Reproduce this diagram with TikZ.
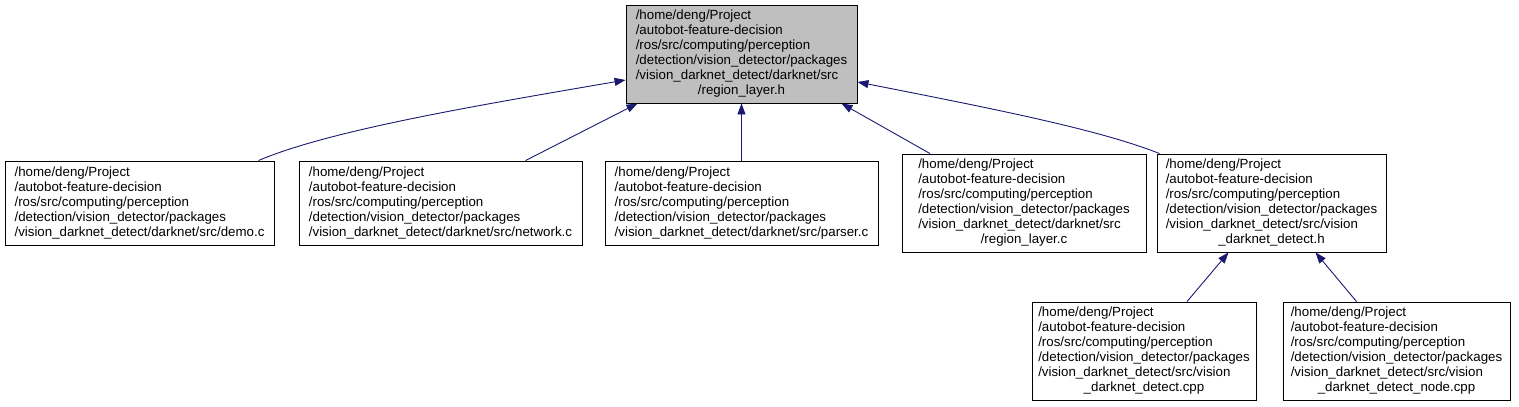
\documentclass[tikz,border=0pt]{standalone}
\usepackage{fontspec}
\setmainfont{Liberation Sans}
\usetikzlibrary{arrows.meta}
\definecolor{edgecol}{HTML}{191970}
\definecolor{topfill}{HTML}{BFBFBF}
\tikzset{
  box/.style={draw=black, line width=0.9pt, fill=white, inner sep=0pt,
    font=\fontsize{13.3}{15}\selectfont},
  tall/.style={minimum height=98pt},
  short/.style={minimum height=84pt},
  edge/.style={draw=edgecol, line width=0.9pt, {Triangle[length=11pt,width=8pt]}-},
}
\newcommand{\pth}[1]{\begin{tabular}{@{}l@{}}/home/deng/Project\\/autobot-feature-decision\\/ros/src/computing/perception\\/detection/vision\_detector/packages\\#1\end{tabular}}
\begin{document}
\begin{tikzpicture}[x=1pt,y=-1pt]
\useasboundingbox (0,0) rectangle (1519,407);
\node[box, tall, fill=topfill, minimum width=231pt] (top) at (741.5,54)
  {\pth{/vision\_darknet\_detect/darknet/src\\\multicolumn{1}{@{}c@{}}{/region\_layer.h}}};
\node[box, short, minimum width=269pt] (demo) at (139.5,203)
  {\pth{/vision\_darknet\_detect/darknet/src/demo.c}};
\node[box, short, minimum width=283pt] (network) at (440.5,203)
  {\pth{/vision\_darknet\_detect/darknet/src/network.c}};
\node[box, short, minimum width=273pt] (parser) at (741.5,203)
  {\pth{/vision\_darknet\_detect/darknet/src/parser.c}};
\node[box, tall, minimum width=244pt] (regionc) at (1024,203)
  {\pth{/vision\_darknet\_detect/darknet/src\\\multicolumn{1}{@{}c@{}}{/region\_layer.c}}};
\node[box, tall, minimum width=229pt] (visionh) at (1271.5,203)
  {\pth{/vision\_darknet\_detect/src/vision\\\multicolumn{1}{@{}c@{}}{\_darknet\_detect.h}}};
\node[box, tall, minimum width=224pt] (detectcpp) at (1144,351)
  {\pth{/vision\_darknet\_detect/src/vision\\\multicolumn{1}{@{}c@{}}{\_darknet\_detect.cpp}}};
\node[box, tall, minimum width=227pt] (nodecpp) at (1396.5,351)
  {\pth{/vision\_darknet\_detect/src/vision\\\multicolumn{1}{@{}c@{}}{\_darknet\_detect\_node.cpp}}};

\draw[edge] ([yshift=-26pt]top.west) .. controls (480,105) and (330,130) .. ([xshift=-16pt]demo.north east);
\draw[edge] ([xshift=-104pt]top.south) -- ([xshift=85pt]network.north);
\draw[edge] (top.south) -- (parser.north);
\draw[edge] ([xshift=100pt]top.south) -- ([xshift=-94pt]regionc.north);
\draw[edge] ([yshift=-28pt]top.east) .. controls (1000,110) and (1100,130) .. ([xshift=3pt]visionh.north west);
\draw[edge] ([xshift=-43pt]visionh.south) -- ([xshift=43pt]detectcpp.north);
\draw[edge] ([xshift=44pt]visionh.south) -- ([xshift=-40pt]nodecpp.north);
\end{tikzpicture}
\end{document}
